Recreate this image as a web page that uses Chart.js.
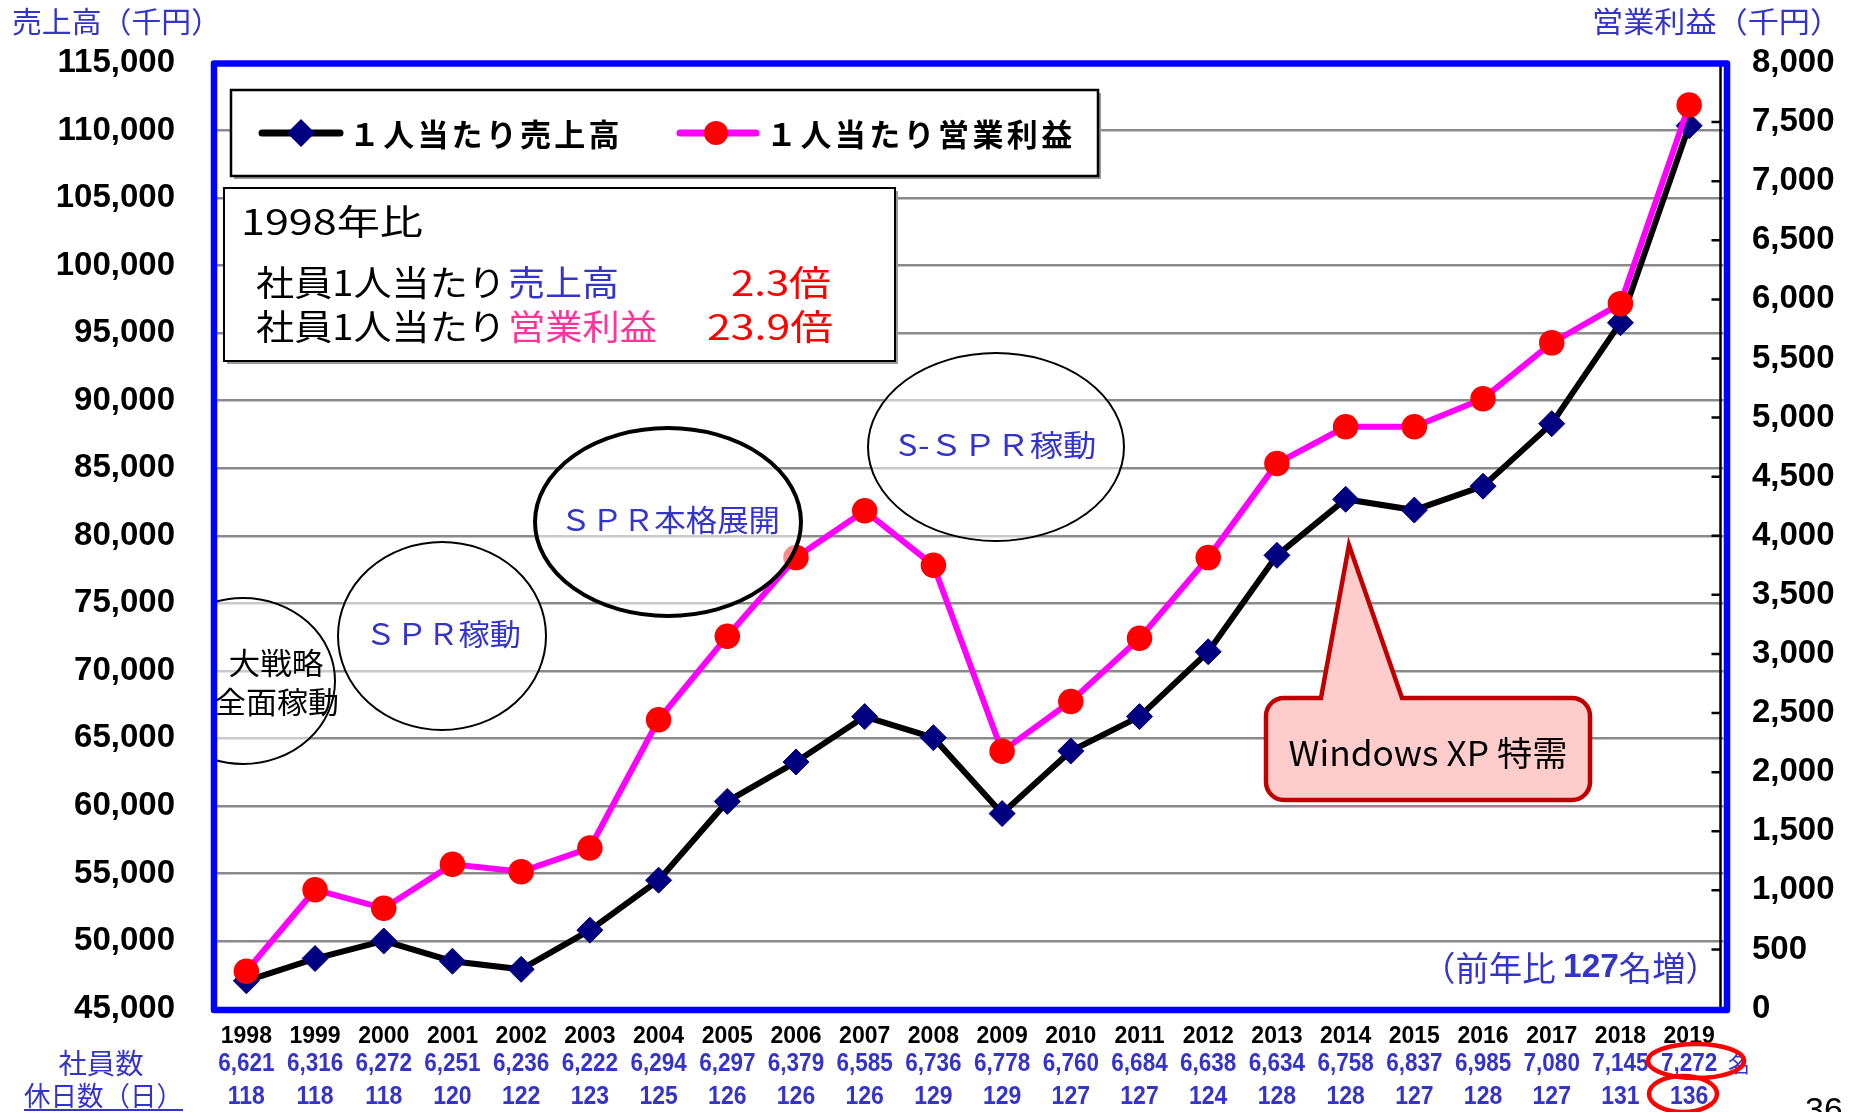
<!DOCTYPE html>
<html lang="ja">
<head>
<meta charset="utf-8">
<title>1人当たり売上高・営業利益</title>
<script src="https://cdn.jsdelivr.net/npm/chart.js@4.4.1/dist/chart.umd.min.js"></script>
<style>
  html, body { margin: 0; padding: 0; background: #fff; }
  #wrap { width: 1856px; height: 1112px; }
</style>
</head>
<body>
<div id="wrap"><canvas id="chart" width="1856" height="1112"></canvas></div>
<script>
// ---- values ----
const years = ['1998', '1999', '2000', '2001', '2002', '2003', '2004', '2005', '2006', '2007', '2008',
               '2009', '2010', '2011', '2012', '2013', '2014', '2015', '2016', '2017', '2018', '2019'];
// 1人当たり売上高 (千円)
const salesPerHead = [47050, 48700, 50000, 48500, 47900, 50800, 54500, 60330, 63250, 66610, 65050,
                      59430, 64060, 66610, 71410, 78550, 82700, 81900, 83670, 88300, 95770, 110360];
// 1人当たり営業利益 (千円)
const profitPerHead = [315, 1005, 848, 1220, 1158, 1358, 2443, 3150, 3815, 4212, 3750,
                       2176, 2598, 3132, 3815, 4612, 4922, 4922, 5160, 5632, 5964, 7645];
// 社員数 / 休日数（日）
const staffCounts = [6621, 6316, 6272, 6251, 6236, 6222, 6294, 6297, 6379, 6585, 6736,
                     6778, 6760, 6684, 6638, 6634, 6758, 6837, 6985, 7080, 7145, 7272];
const holidayDays = [118, 118, 118, 120, 122, 123, 125, 126, 126, 126, 129,
                     129, 127, 127, 124, 128, 128, 127, 128, 127, 131, 136];
// axis ranges
const salesAxis = [45000, 115000, 5000];
const profitAxis = [0, 8000, 500];

const JP = '"Noto Sans CJK JP", "Noto Sans", sans-serif';
const NUM = '"Liberation Sans", Arial, sans-serif';
const TEXT_BLUE = '#3434C8';

/**
 * Draw a row of text runs (different fonts / colours), optionally squeezed to a width
 */
function drawRuns(ctx, runs, x, y, align = 'left', width = 0) {
    ctx.save();
    ctx.textBaseline = 'middle';
    ctx.textAlign = 'left';
    let natural = 0;
    runs.forEach(r => { ctx.font = r.font; natural += ctx.measureText(r.text).width; });
    const sx = width ? width / natural : 1;
    const total = natural * sx;
    const start = align === 'center' ? x - total / 2 : (align === 'right' ? x - total : x);
    ctx.translate(start, y);
    ctx.scale(sx, 1);
    let cx = 0;
    runs.forEach(r => {
        ctx.font = r.font;
        ctx.fillStyle = r.color;
        ctx.fillText(r.text, cx, 0);
        cx += ctx.measureText(r.text).width;
    });
    ctx.restore();
}

function drawText(ctx, text, x, y, font, color, align = 'left', width = 0) {
    drawRuns(ctx, [{ text, font, color }], x, y, align, width);
}

// letter-spaced legend text
function drawSpaced(ctx, text, x, y, pitch, font, color) {
    ctx.save();
    ctx.font = font;
    ctx.fillStyle = color;
    ctx.textBaseline = 'middle';
    [...text].forEach((ch, i) => ctx.fillText(ch, x + i * pitch, y));
    ctx.restore();
}

function drawDiamond(ctx, x, y, r, color) {
    ctx.beginPath();
    ctx.moveTo(x - r, y);
    ctx.lineTo(x, y - r);
    ctx.lineTo(x + r, y);
    ctx.lineTo(x, y + r);
    ctx.closePath();
    ctx.fillStyle = color;
    ctx.fill();
}

function boxWithShadow(ctx, x0, y0, x1, y1, lw) {
    ctx.fillStyle = '#9a9a9a';
    ctx.fillRect(x0 + 3, y0 + 3, x1 - x0, y1 - y0);
    ctx.fillStyle = '#fff';
    ctx.fillRect(x0, y0, x1 - x0, y1 - y0);
    ctx.lineWidth = lw;
    ctx.strokeStyle = '#000';
    ctx.strokeRect(x0, y0, x1 - x0, y1 - y0);
}

function phaseEllipse(ctx, cx, cy, rx, ry, lw) {
    ctx.beginPath();
    ctx.ellipse(cx, cy, rx, ry, 0, 0, Math.PI * 2);
    ctx.fillStyle = 'rgba(255,255,255,0.55)';
    ctx.fill();
    ctx.lineWidth = lw;
    ctx.strokeStyle = '#000';
    ctx.stroke();
}

const slideOverlay = {
    id: 'slideOverlay',
    afterDatasetsDraw(chart) {
        const ctx = chart.ctx;
        const area = chart.chartArea;
        const y1 = chart.scales.y1;

        // phase ellipses
        ctx.save();
        ctx.beginPath();
        ctx.rect(area.left, area.top, area.right - area.left, area.bottom - area.top);
        ctx.clip();
        phaseEllipse(ctx, 243, 681, 92, 83, 2);
        ctx.restore();
        phaseEllipse(ctx, 442, 636, 104, 94, 2);
        phaseEllipse(ctx, 668, 522, 133, 94, 4);
        phaseEllipse(ctx, 996, 447, 128, 94, 2);

        // plot frame and right axis
        ctx.save();
        ctx.strokeStyle = '#000';
        ctx.lineWidth = 2.5;
        ctx.beginPath();
        ctx.moveTo(area.right - 3, area.top);
        ctx.lineTo(area.right - 3, area.bottom);
        y1.ticks.forEach(t => {
            const py = y1.getPixelForValue(t.value);
            ctx.moveTo(area.right - 12, py);
            ctx.lineTo(area.right - 2, py);
        });
        ctx.stroke();
        ctx.strokeStyle = '#0000FF';
        ctx.lineWidth = 6.5;
        ctx.lineJoin = 'round';
        ctx.strokeRect(area.left + 2, area.top + 0.5, area.right - area.left + 1.5, area.bottom - area.top + 1);
        ctx.restore();

        // texts in the ellipses
        const f30 = '30px ' + JP;
        drawText(ctx, '大戦略', 276, 663, f30, '#000', 'center', 95);
        drawText(ctx, '全面稼動', 277, 702, f30, '#000', 'center', 124);
        drawText(ctx, 'ＳＰＲ稼動', 443, 634, f30, TEXT_BLUE, 'center', 156);
        drawText(ctx, 'ＳＰＲ本格展開', 670, 520, f30, TEXT_BLUE, 'center', 220);
        drawText(ctx, 'S-ＳＰＲ稼動', 997, 445, f30, TEXT_BLUE, 'center', 199);

        ctx.save();
        // legend
        boxWithShadow(ctx, 231, 90, 1098, 176, 2.5);
        ctx.lineCap = 'round';
        ctx.lineWidth = 7;
        ctx.strokeStyle = '#000';
        ctx.beginPath(); ctx.moveTo(262, 133); ctx.lineTo(340, 133); ctx.stroke();
        drawDiamond(ctx, 301, 133, 14, '#000080');
        ctx.strokeStyle = '#FF00FF';
        ctx.beginPath(); ctx.moveTo(680, 133); ctx.lineTo(756, 133); ctx.stroke();
        ctx.beginPath(); ctx.arc(716, 133, 12, 0, Math.PI * 2); ctx.fillStyle = '#FF0000'; ctx.fill();
        drawSpaced(ctx, '１人当たり売上高', 349, 134, 34.2, 'bold 31px ' + JP, '#000');
        drawSpaced(ctx, '１人当たり営業利益', 766, 134, 34.4, 'bold 31px ' + JP, '#000');

        // 1998年比 box
        boxWithShadow(ctx, 224, 188, 895, 361, 2);
        const f35 = '35px ' + JP;
        drawText(ctx, '1998年比', 241, 222, f35, '#000', 'left', 182);
        drawText(ctx, '社員1人当たり', 256, 283, f35, '#000', 'left', 250);
        drawText(ctx, '売上高', 508, 283, f35, TEXT_BLUE, 'left', 111);
        drawText(ctx, '2.3倍', 831, 283, f35, '#FF0000', 'right', 100);
        drawText(ctx, '社員1人当たり', 256, 327, f35, '#000', 'left', 250);
        drawText(ctx, '営業利益', 508, 327, f35, '#FF3399', 'left', 149);
        drawText(ctx, '23.9倍', 833, 327, f35, '#FF0000', 'right', 126);

        // Windows XP callout
        const x0 = 1266, yb = 698, x1 = 1590, y2 = 800, r = 18;
        ctx.beginPath();
        ctx.moveTo(x0 + r, yb);
        ctx.lineTo(1321, yb);
        ctx.lineTo(1349, 545);
        ctx.lineTo(1402, yb);
        ctx.lineTo(x1 - r, yb);
        ctx.arcTo(x1, yb, x1, yb + r, r);
        ctx.lineTo(x1, y2 - r);
        ctx.arcTo(x1, y2, x1 - r, y2, r);
        ctx.lineTo(x0 + r, y2);
        ctx.arcTo(x0, y2, x0, y2 - r, r);
        ctx.lineTo(x0, yb + r);
        ctx.arcTo(x0, yb, x0 + r, yb, r);
        ctx.closePath();
        ctx.fillStyle = '#FFCCCC';
        ctx.fill();
        ctx.lineJoin = 'miter';
        ctx.lineCap = 'butt';
        ctx.lineWidth = 4.5;
        ctx.strokeStyle = '#C00000';
        ctx.stroke();
        ctx.restore();
        drawText(ctx, 'Windows XP 特需', 1428, 753, '34px ' + JP, '#000', 'center', 279);

        // 前年比
        drawRuns(ctx, [
            { text: '（前年比 ', font: '34px ' + JP, color: TEXT_BLUE },
            { text: '127', font: 'bold 34px ' + NUM, color: TEXT_BLUE },
            { text: '名増）', font: '34px ' + JP, color: TEXT_BLUE }
        ], 1719, 968, 'right', 297);
    },

    afterDraw(chart) {
        const ctx = chart.ctx;
        const x = chart.scales.x;

        // axis titles
        drawText(ctx, '売上高（千円）', 12, 22, '29px ' + JP, TEXT_BLUE, 'left', 209);
        drawText(ctx, '営業利益（千円）', 1841, 22, '29px ' + JP, TEXT_BLUE, 'right', 249);

        // staff and holiday rows under the years
        drawText(ctx, '社員数', 101, 1063, '28px ' + JP, TEXT_BLUE, 'center', 85);
        drawText(ctx, '休日数（日）', 24, 1096, '27px ' + JP, TEXT_BLUE, 'left', 159);
        ctx.save();
        ctx.fillStyle = TEXT_BLUE;
        ctx.fillRect(24, 1109, 159, 2);
        ctx.restore();

        const numFont = 'bold 25px ' + NUM;
        ctx.save();
        ctx.font = numFont;
        staffCounts.forEach((n, i) => {
            const label = n.toLocaleString('en-US');
            const w = ctx.measureText(label).width * 0.9;
            drawText(ctx, label, x.getPixelForTick(i), 1064, numFont, TEXT_BLUE, 'center', w);
        });
        holidayDays.forEach((n, i) => {
            const label = String(n);
            const w = ctx.measureText(label).width * 0.92;
            drawText(ctx, label, x.getPixelForTick(i), 1097, numFont, TEXT_BLUE, 'center', w);
        });
        ctx.restore();
        drawText(ctx, '名', 1728, 1064, '22px ' + JP, TEXT_BLUE, 'left');

        // red rings on the latest year
        ctx.save();
        ctx.strokeStyle = '#FF0000';
        ctx.lineWidth = 4.5;
        ctx.beginPath();
        ctx.ellipse(1696, 1061, 48, 17, 0, 0, Math.PI * 2);
        ctx.stroke();
        ctx.beginPath();
        ctx.ellipse(1683, 1094, 34, 18, 0, 0, Math.PI * 2);
        ctx.stroke();
        ctx.restore();

        // page number
        ctx.save();
        ctx.font = '34px ' + NUM;
        ctx.fillStyle = '#000';
        ctx.textBaseline = 'alphabetic';
        ctx.fillText('36', 1805, 1121);
        ctx.restore();
    }
};

new Chart(document.getElementById('chart'), {
    type: 'line',
    data: {
        labels: years,
        datasets: [
            {
                label: '1人当たり売上高',
                data: salesPerHead,
                yAxisID: 'y',
                order: 1,
                borderColor: '#000000',
                borderWidth: 6,
                pointStyle: 'rectRot',
                pointRadius: 13,
                pointBorderWidth: 1,
                pointBackgroundColor: '#000080',
                pointBorderColor: '#000080',
                tension: 0
            },
            {
                label: '1人当たり営業利益',
                data: profitPerHead,
                yAxisID: 'y1',
                order: 0,
                borderColor: '#FF00FF',
                borderWidth: 6,
                pointStyle: 'circle',
                pointRadius: 12,
                pointBorderWidth: 1.5,
                pointBackgroundColor: '#FF0000',
                pointBorderColor: '#FF0000',
                tension: 0
            }
        ]
    },
    options: {
        responsive: false,
        animation: false,
        devicePixelRatio: 1,
        layout: { padding: { top: 63, left: 0, right: 0, bottom: 0 }, autoPadding: false },
        plugins: {
            legend: { display: false },
            tooltip: { enabled: false }
        },
        scales: {
            x: {
                type: 'category',
                offset: true,
                grid: { display: false, drawTicks: false },
                border: { display: false },
                ticks: {
                    autoSkip: false,
                    maxRotation: 0,
                    padding: 14,
                    color: '#000',
                    font: { family: NUM, weight: 'bold', size: 23, lineHeight: 1.2 }
                },
                afterFit: s => { s.height = 103.5; }
            },
            y: {
                position: 'left',
                min: salesAxis[0],
                max: salesAxis[1],
                grid: { color: '#8a8a8a', lineWidth: 2.5, drawTicks: false },
                border: { display: false },
                ticks: {
                    stepSize: salesAxis[2],
                    padding: 37,
                    color: '#000',
                    font: { family: NUM, weight: 'bold', size: 33 },
                    callback: v => v.toLocaleString('en-US')
                },
                afterFit: s => { s.width = 212; }
            },
            y1: {
                position: 'right',
                min: profitAxis[0],
                max: profitAxis[1],
                grid: { drawOnChartArea: false, drawTicks: false },
                border: { display: false },
                ticks: {
                    stepSize: profitAxis[2],
                    padding: 28.5,
                    color: '#000',
                    font: { family: NUM, weight: 'bold', size: 33 },
                    callback: v => v.toLocaleString('en-US')
                },
                afterFit: s => { s.width = 132.5; }
            }
        }
    },
    plugins: [slideOverlay]
});
</script>
</body>
</html>
